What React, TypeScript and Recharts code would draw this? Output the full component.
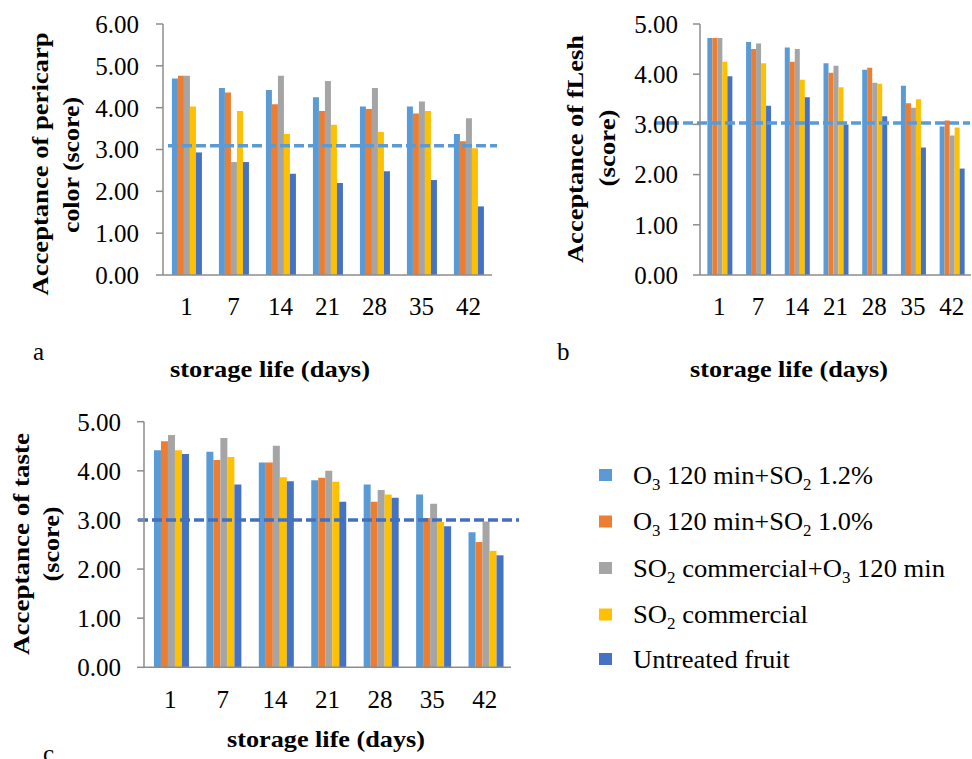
import React from 'react';
import { BarChart, Bar, XAxis, YAxis, ReferenceLine } from 'recharts';

const days = ['1', '7', '14', '21', '28', '35', '42'];

const seriesNames = ['O3 120 min+SO2 1.2%', 'O3 120 min+SO2 1.0%', 'SO2 commercial+O3 120 min', 'SO2 commercial', 'Untreated fruit'];
const seriesKeys = ['o312', 'o310', 'so2o3', 'so2', 'untreated'];
const seriesColors = ['#5B9BD5', '#ED7D31', '#A5A5A5', '#FFC000', '#4472C4'];

// a: pericarp color
const pericarpO312 = [4.70, 4.47, 4.42, 4.25, 4.03, 4.03, 3.37];
const pericarpO310 = [4.76, 4.36, 4.08, 3.92, 3.97, 3.86, 3.20];
const pericarpSo2O3 = [4.76, 2.70, 4.76, 4.64, 4.47, 4.15, 3.75];
const pericarpSo2 = [4.03, 3.92, 3.37, 3.59, 3.42, 3.92, 3.03];
const pericarpUntreated = [2.93, 2.70, 2.42, 2.20, 2.48, 2.27, 1.64];
const pericarpThreshold = 3.09;
const pericarpTicks = [0, 1, 2, 3, 4, 5, 6];

// b: flesh
const fleshO312 = [4.72, 4.64, 4.53, 4.22, 4.09, 3.77, 2.96];
const fleshO310 = [4.72, 4.50, 4.25, 4.03, 4.13, 3.42, 3.08];
const fleshSo2O3 = [4.72, 4.61, 4.50, 4.17, 3.83, 3.33, 2.78];
const fleshSo2 = [4.25, 4.22, 3.89, 3.74, 3.81, 3.50, 2.94];
const fleshUntreated = [3.96, 3.37, 3.54, 3.00, 3.16, 2.54, 2.12];
const fleshThreshold = 3.03;

// c: taste
const tasteO312 = [4.42, 4.39, 4.17, 3.81, 3.72, 3.52, 2.75];
const tasteO310 = [4.60, 4.22, 4.17, 3.86, 3.37, 3.04, 2.55];
const tasteSo2O3 = [4.73, 4.67, 4.51, 4.00, 3.61, 3.33, 2.97];
const tasteSo2 = [4.42, 4.28, 3.87, 3.78, 3.52, 2.96, 2.37];
const tasteUntreated = [4.34, 3.72, 3.79, 3.37, 3.45, 2.87, 2.28];
const tasteThreshold = 3.0;
const fiveTicks = [0, 1, 2, 3, 4, 5];

// legend label pieces: [text, isSubscript]
const legendPieces: [string, boolean][][] = [
  [['O', false], ['3', true], [' 120 min+SO', false], ['2', true], [' 1.2%', false]],
  [['O', false], ['3', true], [' 120 min+SO', false], ['2', true], [' 1.0%', false]],
  [['SO', false], ['2', true], [' commercial+O', false], ['3', true], [' 120 min', false]],
  [['SO', false], ['2', true], [' commercial', false]],
  [['Untreated fruit', false]],
];

const build = (arrs: number[][]) =>
  days.map((d, i) => {
    const row: any = { day: d };
    seriesKeys.forEach((k, j) => (row[k] = arrs[j][i]));
    return row;
  });

const dataA = build([pericarpO312, pericarpO310, pericarpSo2O3, pericarpSo2, pericarpUntreated]);
const dataB = build([fleshO312, fleshO310, fleshSo2O3, fleshSo2, fleshUntreated]);
const dataC = build([tasteO312, tasteO310, tasteSo2O3, tasteSo2, tasteUntreated]);

const FONT = '"Liberation Serif", "Times New Roman", serif';
const AXIS = '#8C8C8C';

type PanelProps = {
  left: number; top: number; width: number; height: number;
  mTop: number; mRight: number; yWidth: number; xHeight: number;
  data: any[]; ticks: number[]; refValue: number; refColor: string;
  extL: number; extR: number; yTickMargin: number; xTickMargin: number;
};

function Panel(p: PanelProps) {
  const max = p.ticks[p.ticks.length - 1];
  return (
    <div style={{ position: 'absolute', left: p.left, top: p.top }}>
      <BarChart
        width={p.width}
        height={p.height}
        data={p.data}
        margin={{ top: p.mTop, right: p.mRight, bottom: 0, left: 0 }}
        barCategoryGap="19%"
        barGap={0}
      >
        <XAxis
          dataKey="day"
          height={p.xHeight}
          tickLine={false}
          tickSize={0}
          tickMargin={p.xTickMargin}
          axisLine={{ stroke: AXIS, strokeWidth: 1.5 }}
          tick={{ fill: '#000', fontSize: 25, fontFamily: FONT }}
          interval={0}
        />
        <YAxis
          width={p.yWidth}
          domain={[0, max]}
          ticks={p.ticks}
          interval={0}
          tickSize={7}
          tickMargin={p.yTickMargin}
          tickFormatter={(v: number) => v.toFixed(2)}
          axisLine={{ stroke: AXIS, strokeWidth: 1.5 }}
          tickLine={{ stroke: AXIS, strokeWidth: 1.5 }}
          tick={{ fill: '#000', fontSize: 25, fontFamily: FONT }}
        />
        {seriesKeys.map((k, i) => (
          <Bar key={k} dataKey={k} name={seriesNames[i]} fill={seriesColors[i]} isAnimationActive={false} />
        ))}
        <ReferenceLine
          y={p.refValue}
          stroke={p.refColor}
          strokeWidth={3}
          strokeDasharray="10 4"
          shape={(s: any) => (
            <line
              x1={s.x1 + p.extL}
              y1={s.y1}
              x2={s.x2 + p.extR}
              y2={s.y2}
              stroke={p.refColor}
              strokeWidth={3.5}
              strokeDasharray="10 4"
            />
          )}
        />
      </BarChart>
    </div>
  );
}

const legendCenters = [475, 521.5, 568, 614.5, 659];
const legendWidths = [240, 240, 312, 175, 157];

function LegendText({ pieces, y, w }: { pieces: [string, boolean][]; y: number; w: number }) {
  let prevSub = false;
  return (
    <text x={633} y={y} fontSize={25} fill="#000" textLength={w} lengthAdjust="spacingAndGlyphs">
      {pieces.map(([t, sub], i) => {
        const dy = sub ? 6 : prevSub ? -6 : 0;
        prevSub = sub;
        return (
          <tspan key={i} dy={dy} fontSize={sub ? 16 : 25}>
            {t}
          </tspan>
        );
      })}
    </text>
  );
}

export default function App() {
  return (
    <div
      style={{
        position: 'absolute', left: 0, top: 0, width: 972, height: 759,
        background: '#fff', overflow: 'hidden', fontFamily: FONT,
      }}
    >
      <Panel
        left={0} top={0} width={500} height={320}
        mTop={24} mRight={8} yWidth={163} xHeight={45}
        data={dataA} ticks={pericarpTicks} refValue={pericarpThreshold} refColor="#5B9BD5"
        extL={5} extR={5} yTickMargin={17} xTickMargin={22}
      />
      <Panel
        left={540} top={0} width={432} height={320}
        mTop={24} mRight={1} yWidth={160} xHeight={45}
        data={dataB} ticks={fiveTicks} refValue={fleshThreshold} refColor="#5B9BD5"
        extL={-45} extR={-1} yTickMargin={15} xTickMargin={22}
      />
      <Panel
        left={0} top={390} width={530} height={330}
        mTop={31.7} mRight={19} yWidth={144} xHeight={52.7}
        data={dataC} ticks={fiveTicks} refValue={tasteThreshold} refColor="#4270BE"
        extL={-6} extR={8} yTickMargin={16} xTickMargin={23}
      />
      <svg
        width={972}
        height={759}
        style={{ position: 'absolute', left: 0, top: 0, pointerEvents: 'none' }}
        fontFamily={FONT}
      >
        <g fontWeight="bold" fontSize={23} fill="#000" textAnchor="middle">
          <text transform="translate(48,164) rotate(-90)" textLength={263} lengthAdjust="spacingAndGlyphs">Acceptance of pericarp</text>
          <text transform="translate(79,165) rotate(-90)" textLength={136} lengthAdjust="spacingAndGlyphs">color (score)</text>
          <text transform="translate(583,149) rotate(-90)" textLength={228} lengthAdjust="spacingAndGlyphs">Acceptance of fLesh</text>
          <text transform="translate(615,148) rotate(-90)" textLength={77} lengthAdjust="spacingAndGlyphs">(score)</text>
          <text transform="translate(29,544) rotate(-90)" textLength={222} lengthAdjust="spacingAndGlyphs">Acceptance of taste</text>
          <text transform="translate(59,544) rotate(-90)" textLength={75} lengthAdjust="spacingAndGlyphs">(score)</text>
        </g>
        <g fontWeight="bold" fontSize={24} fill="#000" textAnchor="middle">
          <text x={270} y={377} textLength={200} lengthAdjust="spacingAndGlyphs">storage life (days)</text>
          <text x={789} y={377} textLength={198} lengthAdjust="spacingAndGlyphs">storage life (days)</text>
          <text x={326} y={747} textLength={198} lengthAdjust="spacingAndGlyphs">storage life (days)</text>
        </g>
        <g fontSize={25} fill="#000">
          <text x={33} y={360}>a</text>
          <text x={557} y={360}>b</text>
          <text x={43} y={762}>c</text>
        </g>
        {legendPieces.map((pieces, i) => (
          <g key={i}>
            <rect x={599} y={legendCenters[i] - 6} width={13} height={12} fill={seriesColors[i]} />
            <LegendText pieces={pieces} y={legendCenters[i] + 8.5} w={legendWidths[i]} />
          </g>
        ))}
      </svg>
    </div>
  );
}
